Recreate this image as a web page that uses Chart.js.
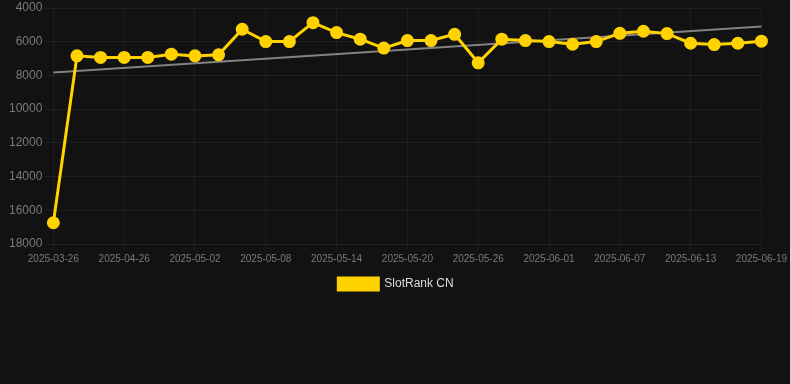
<!DOCTYPE html>
<html>
<head>
<meta charset="utf-8">
<script src="https://cdn.jsdelivr.net/npm/chart.js@4/dist/chart.umd.min.js"></script>
<style>
  html, body { margin: 0; padding: 0; background: #121212; }
  #wrap { width: 790px; height: 306px; position: relative; }
</style>
</head>
<body>
<div id="wrap"><canvas id="c"></canvas></div>
<script>
const labels = [
  "2025-03-26","2025-04-22","2025-04-24","2025-04-26","2025-04-28","2025-04-30",
  "2025-05-02","2025-05-04","2025-05-06","2025-05-08","2025-05-10","2025-05-12",
  "2025-05-14","2025-05-16","2025-05-18","2025-05-20","2025-05-22","2025-05-24",
  "2025-05-26","2025-05-28","2025-05-30","2025-06-01","2025-06-03","2025-06-05",
  "2025-06-07","2025-06-09","2025-06-11","2025-06-13","2025-06-15","2025-06-17",
  "2025-06-19"
];
const rankValues = [
  16740, 6840, 6930, 6930, 6930, 6740,
  6840, 6780, 5260, 5990, 5990, 4870,
  5460, 5850, 6380, 5930, 5930, 5560,
  7250, 5850, 5930, 5990, 6150, 5990,
  5500, 5380, 5520, 6090, 6170, 6090,
  5970
];
const trendStart = 7820;
const trendEnd = 5100;
const trendValues = labels.map((_, i) => i === 0 ? trendStart : (i === labels.length - 1 ? trendEnd : null));
const yTicks = [4000, 6000, 8000, 10000, 12000, 14000, 16000, 18000];

const font = "'Liberation Sans', Arial, Helvetica, sans-serif";
const gold = "#FFD200";

new Chart(document.getElementById("c"), {
  type: "line",
  data: {
    labels: labels,
    datasets: [
      {
        label: "SlotRank CN",
        data: rankValues,
        borderColor: gold,
        backgroundColor: gold,
        borderWidth: 3,
        pointRadius: 5,
        pointHoverRadius: 5,
        pointBackgroundColor: gold,
        pointBorderColor: gold,
        tension: 0,
        order: 1
      },
      {
        label: "trend",
        data: trendValues,
        spanGaps: true,
        borderColor: "rgba(150,150,150,0.85)",
        borderWidth: 2,
        pointRadius: 0,
        tension: 0,
        order: 2
      }
    ]
  },
  options: {
    responsive: true,
    maintainAspectRatio: false,
    animation: false,
    layout: { padding: { left: 6, right: 4, top: 0, bottom: 6 } },
    scales: {
      x: {
        offset: false,
        grid: { color: "rgba(255,255,255,0.045)", drawTicks: true, tickLength: 6 },
        border: { display: false },
        ticks: {
          color: "#7a7a7a",
          font: { family: font, size: 10 },
          maxRotation: 0,
          autoSkip: false,
          callback: function(v, i) { return i % 3 === 0 ? labels[i] : null; }
        }
      },
      y: {
        reverse: true,
        min: 4000,
        max: 18000,
        afterBuildTicks: function(axis) { axis.ticks = yTicks.map(v => ({ value: v })); },
        afterFit: function(axis) { axis.paddingTop = 5; },
        grid: { color: "rgba(255,255,255,0.06)" },
        border: { display: false },
        ticks: {
          color: "#7a7a7a",
          font: { family: font, size: 12 },
          padding: 3,
          callback: v => String(v)
        }
      }
    },
    plugins: {
      legend: {
        position: "bottom",
        labels: {
          filter: item => item.datasetIndex === 0,
          color: "#dddddd",
          boxWidth: 40,
          boxHeight: 12,
          font: { family: font, size: 12 }
        }
      },
      tooltip: { enabled: false }
    }
  }
});
</script>
</body>
</html>
